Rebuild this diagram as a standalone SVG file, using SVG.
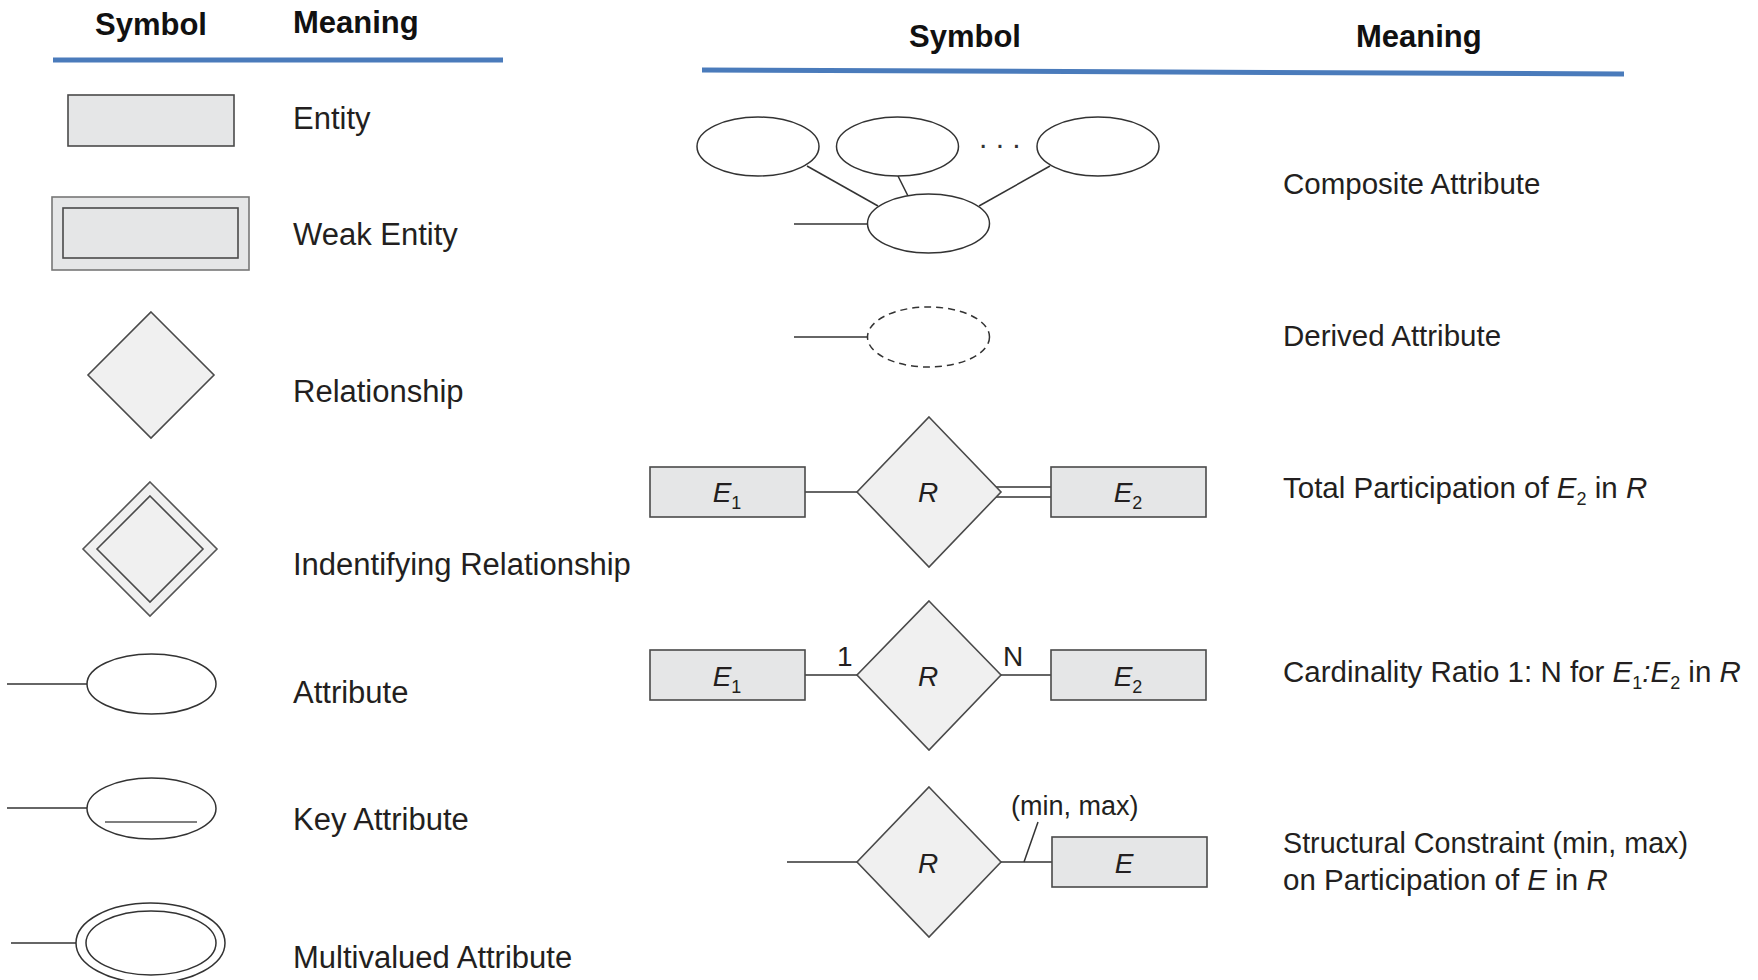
<svg xmlns="http://www.w3.org/2000/svg" width="1758" height="980" viewBox="0 0 1758 980">
<style>
text{font-family:"Liberation Sans",Arial,sans-serif;fill:#231f20}
.hd{font-weight:bold;font-size:31px;fill:#111}
.m{font-size:31px}
.mr{font-size:29.5px}
.lbl{font-size:28px;font-style:italic}
.sub{font-size:18px;font-style:normal}
.ent{fill:#e5e6e7;stroke:#4a4a4a;stroke-width:1.6}
.rel{fill:#f0f0f0;stroke:#4a4a4a;stroke-width:1.6}
.att{fill:#fff;stroke:#333;stroke-width:1.5}
.ln{stroke:#333;stroke-width:1.5;fill:none}
.rule{stroke:#4a7bbb;stroke-width:5;fill:none}
</style>
<rect width="1758" height="980" fill="#fff"/>

<g id="headers">
<text class="hd" x="95" y="35">Symbol</text>
<text class="hd" x="293" y="33">Meaning</text>
<line class="rule" x1="53" y1="60" x2="503" y2="60"/>
<text class="hd" x="909" y="47">Symbol</text>
<text class="hd" x="1356" y="47">Meaning</text>
<line class="rule" x1="702" y1="70" x2="1624" y2="74"/>
</g>

<g id="connectors">
<line class="ln" x1="7" y1="684" x2="87" y2="684"/>
<line class="ln" x1="7" y1="808" x2="87" y2="808"/>
<line class="ln" x1="11" y1="943" x2="76" y2="943"/>
<line class="ln" x1="807" y1="166" x2="878" y2="206"/>
<line class="ln" x1="898" y1="176" x2="908" y2="196"/>
<line class="ln" x1="1050" y1="166" x2="979" y2="206"/>
<line class="ln" x1="794" y1="224" x2="868" y2="224"/>
<line class="ln" x1="794" y1="337" x2="868" y2="337"/>
<line class="ln" x1="805" y1="492" x2="857" y2="492"/>
<line class="ln" x1="996" y1="487" x2="1051" y2="487"/>
<line class="ln" x1="996" y1="497" x2="1051" y2="497"/>
<line class="ln" x1="805" y1="675" x2="857" y2="675"/>
<line class="ln" x1="1001" y1="675" x2="1051" y2="675"/>
<line class="ln" x1="787" y1="862" x2="857" y2="862"/>
<line class="ln" x1="1001" y1="862" x2="1052" y2="862"/>
<line class="ln" x1="1038" y1="822" x2="1024" y2="862"/>
</g>

<g id="entity">
<rect class="ent" x="68" y="95" width="166" height="51"/>
<text class="m" x="293" y="129">Entity</text>
</g>

<g id="weak-entity">
<rect x="52" y="197" width="197" height="73" fill="#e5e6e7" stroke="#777" stroke-width="1.6"/>
<rect class="ent" x="63" y="208" width="175" height="50"/>
<text class="m" x="293" y="245">Weak Entity</text>
</g>

<g id="relationship">
<polygon class="rel" points="151,312 214,375 151,438 88,375"/>
<text class="m" x="293" y="402">Relationship</text>
</g>

<g id="identifying-relationship">
<polygon points="150,482 217,549 150,616 83,549" fill="#f0f0f0" stroke="#555" stroke-width="1.6"/>
<polygon class="rel" points="150,496 203,549 150,602 97,549"/>
<text class="m" x="293" y="575">Indentifying Relationship</text>
</g>

<g id="attribute">
<ellipse class="att" cx="151.5" cy="684" rx="64.5" ry="30"/>
<text class="m" x="293" y="703">Attribute</text>
</g>

<g id="key-attribute">
<ellipse class="att" cx="151.5" cy="808.5" rx="64.5" ry="30.5"/>
<line x1="105" y1="822" x2="197" y2="822" stroke="#555" stroke-width="1.6"/>
<text class="m" x="293" y="830">Key Attribute</text>
</g>

<g id="multivalued-attribute">
<ellipse class="att" cx="150.5" cy="943" rx="74.5" ry="40"/>
<ellipse class="att" cx="151" cy="943" rx="65" ry="32"/>
<text class="m" x="293" y="968">Multivalued Attribute</text>
</g>

<g id="composite-attribute">
<ellipse class="att" cx="758" cy="146.5" rx="61" ry="29.5"/>
<ellipse class="att" cx="897.5" cy="146.5" rx="61" ry="29.5"/>
<ellipse class="att" cx="1098" cy="146.5" rx="61" ry="29.5"/>
<text x="979" y="148" style="font-size:30px;fill:#333">. . .</text>
<ellipse class="att" cx="928.5" cy="223.5" rx="61" ry="29.5"/>
<text class="mr" x="1283" y="194">Composite Attribute</text>
</g>

<g id="derived-attribute">
<ellipse cx="928.5" cy="337" rx="61" ry="30" fill="#fff" stroke="#333" stroke-width="1.5" stroke-dasharray="7 5"/>
<text class="mr" x="1283" y="346">Derived Attribute</text>
</g>

<g id="total-participation">
<rect class="ent" x="650" y="467" width="155" height="50"/>
<text class="lbl" x="727" y="502" text-anchor="middle">E<tspan class="sub" dy="7">1</tspan></text>
<polygon class="rel" points="929,417 1001,492 929,567 857,492"/>
<text class="lbl" x="928" y="502" text-anchor="middle">R</text>
<rect class="ent" x="1051" y="467" width="155" height="50"/>
<text class="lbl" x="1128" y="502" text-anchor="middle">E<tspan class="sub" dy="7">2</tspan></text>
<text class="mr" x="1283" y="498">Total Participation of <tspan font-style="italic">E</tspan><tspan class="sub" dy="7">2</tspan><tspan dy="-7"> in </tspan><tspan font-style="italic">R</tspan></text>
</g>

<g id="cardinality-ratio">
<rect class="ent" x="650" y="650" width="155" height="50"/>
<text class="lbl" x="727" y="686" text-anchor="middle">E<tspan class="sub" dy="7">1</tspan></text>
<polygon class="rel" points="929,601 1001,675 929,750 857,675"/>
<text class="lbl" x="928" y="686" text-anchor="middle">R</text>
<rect class="ent" x="1051" y="650" width="155" height="50"/>
<text class="lbl" x="1128" y="686" text-anchor="middle">E<tspan class="sub" dy="7">2</tspan></text>
<text x="837" y="666" style="font-size:28px">1</text>
<text x="1003" y="666" style="font-size:28px">N</text>
<text class="mr" x="1283" y="682">Cardinality Ratio 1: N for <tspan font-style="italic">E</tspan><tspan class="sub" dy="7">1</tspan><tspan dy="-7" font-style="italic">:E</tspan><tspan class="sub" dy="7">2</tspan><tspan dy="-7"> in </tspan><tspan font-style="italic">R</tspan></text>
</g>

<g id="structural-constraint">
<polygon class="rel" points="929,787 1001,862 929,937 857,862"/>
<text class="lbl" x="928" y="873" text-anchor="middle">R</text>
<rect class="ent" x="1052" y="837" width="155" height="50"/>
<text class="lbl" x="1124" y="873" text-anchor="middle">E</text>
<text x="1011" y="815" style="font-size:27px">(min, max)</text>
<text class="mr" x="1283" y="853" textLength="405" lengthAdjust="spacingAndGlyphs">Structural Constraint (min, max)</text>
<text class="mr" x="1283" y="890">on Participation of <tspan font-style="italic">E</tspan> in <tspan font-style="italic">R</tspan></text>
</g>
</svg>
